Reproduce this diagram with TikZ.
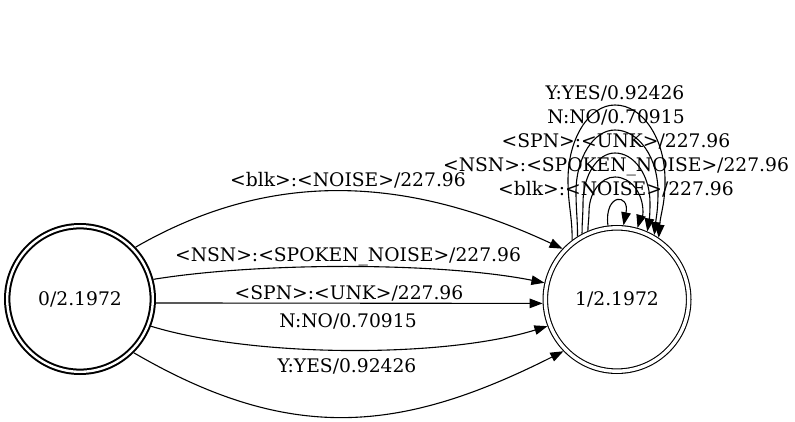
\documentclass[tikz,border=0pt]{standalone}
\usepackage{fontspec}
\setmainfont{DejaVu Serif}
\usetikzlibrary{arrows.meta}
\newcommand{\mysloop}[7]{%
  \draw[arr] (R.#1) .. controls +(0,-#7) and ({#2},{#3+#7}) .. ({#2},{#3})
    .. controls ({#2},{#3-0.552*(#3-#4)}) and ({615-0.552*(615-#2)},{#4}) .. (615,{#4})
    .. controls ({615+0.552*(#5-615)},{#4}) and ({#5},{#3-0.552*(#3-#4)}) .. ({#5},{#3})
    .. controls ({#5},{#3+#7}) and +(2,-#7) .. (R.#6);}
\begin{document}
\begin{tikzpicture}[x=1pt,y=-1pt,
  txt/.style={font=\fontsize{18.7}{22}\selectfont},
  lnode/.style={txt,circle,draw,double,line width=2pt,double distance=2.4pt,
    minimum size=145.6pt,outer sep=3.2pt,inner sep=0pt},
  rnode/.style={txt,circle,draw,double,line width=1.1pt,double distance=3.4pt,
    minimum size=143.4pt,outer sep=2.8pt,inner sep=0pt},
  arr/.style={line width=1.1pt,-{Triangle[length=13pt,width=9.5pt]}},
  lbl/.style={txt,anchor=base,inner sep=0pt}]
\fill[white] (0,0) rectangle (795,422);
\useasboundingbox (0,0) rectangle (795,422);

\node[lnode] (L) at (80,299) {0/2.1972};
\node[rnode] (R) at (617,299.5) {1/2.1972};

% edges from L to R
\draw[arr] (L.43) .. controls (280,164) and (417,181) .. (R.137);
\draw[arr] (L.15) .. controls (260,262) and (440,262) .. (R.167);
\draw[arr] (L.-3) -- (R.183);
\draw[arr] (L.-21) .. controls (255,358) and (445,358) .. (R.201);
\draw[arr] (L.-45.5) .. controls (292,445) and (403,432) .. (R.224.7);

\node[lbl] (e1) at (348,187) {<blk>:<NOISE>/227.96};
\node[lbl] (e2) at (348,261) {<NSN>:<SPOKEN\_NOISE>/227.96};
\node[lbl] (e3) at (349,299) {<SPN>:<UNK>/227.96};
\node[lbl] (e4) at (348,327) {N:NO/0.70915};
\node[lbl] (e5) at (347,372) {Y:YES/0.92426};

% self loops on R
\draw[arr] (R.97) .. controls (604,193) and (630,193) .. (R.85);
\mysloop{113}{589}{212}{177}{643}{74.3}{7}
\mysloop{118.2}{583}{203}{153}{650}{66.1}{12}
\mysloop{122.7}{576}{192}{130}{658}{60.9}{18}
\mysloop{127.5}{568}{180}{105}{665}{56.4}{25}

\node[lbl] (s1) at (616,195.7) {<blk>:<NOISE>/227.96};
\node[lbl] (s2) at (616,171.7) {<NSN>:<SPOKEN\_NOISE>/227.96};
\node[lbl] (s3) at (616,147.7) {<SPN>:<UNK>/227.96};
\node[lbl] (s4) at (616,123.7) {N:NO/0.70915};
\node[lbl] (s5) at (615,99.7) {Y:YES/0.92426};
\end{tikzpicture}
\end{document}
